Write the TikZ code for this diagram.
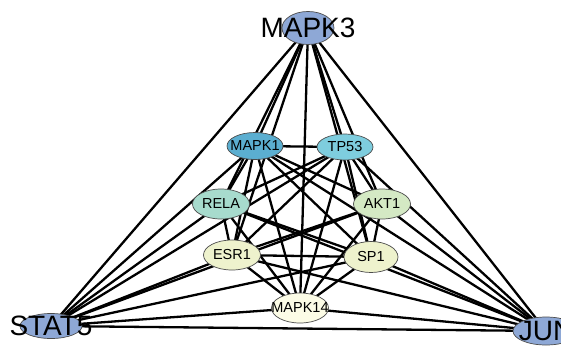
\documentclass[tikz,border=0pt]{standalone}
\usepackage{fontspec}
\setmainfont{Liberation Sans}
\usetikzlibrary{shapes.geometric,backgrounds}

\definecolor{hubblue}{HTML}{8EA8D6}
\definecolor{mapkblue}{HTML}{5BAED0}
\definecolor{tpcyan}{HTML}{7ECDDE}
\definecolor{relateal}{HTML}{A7DBCD}
\definecolor{aktgreen}{HTML}{D4E9C4}
\definecolor{paleyellow}{HTML}{EEF2CD}
\definecolor{creamwhite}{HTML}{FCFCE6}

\begin{document}
\begin{tikzpicture}[x = 1pt, y = -1pt,
        gene/.style = {draw = black!70, line width = 0.7pt, ellipse, inner sep = 0pt},
        hub/.style = {gene, fill = hubblue, label = {[font = \fontsize{28}{28}\selectfont]center:#1}},
        inner/.style = {gene, label = {[font = \fontsize{14.5}{15}\selectfont]center:#1}},
        link/.style = {line width = 2.3pt}]
        \useasboundingbox (0, 0) rectangle (561, 346);

        % Nodes
        \node [hub = MAPK3, minimum width = 52, minimum height = 33] (mapk3) at (308, 28) {};
        \node [hub = STAT5, minimum width = 62, minimum height = 25] (stat5) at (51, 326) {};
        \node [hub = JUN, minimum width = 66, minimum height = 28] (jun) at (546, 331) {};
        \node [inner = MAPK1, fill = mapkblue, minimum width = 56, minimum height = 27] (mapk1) at (255, 146) {};
        \node [inner = TP53, fill = tpcyan, minimum width = 56, minimum height = 26] (tp53) at (345, 147) {};
        \node [inner = RELA, fill = relateal, minimum width = 57, minimum height = 30] (rela) at (221, 204) {};
        \node [inner = AKT1, fill = aktgreen, minimum width = 57, minimum height = 30] (akt1) at (382, 204) {};
        \node [inner = ESR1, fill = paleyellow, minimum width = 57, minimum height = 30] (esr1) at (232, 255) {};
        \node [inner = SP1, fill = paleyellow, minimum width = 54, minimum height = 31] (sp1) at (371, 257) {};
        \node [inner = MAPK14, fill = creamwhite, minimum width = 57, minimum height = 30] (mapk14) at (300, 308) {};

        % Edges
        \begin{pgfonlayer}{background}
        \draw [link] (mapk3.center) -- (stat5.center);
        \draw [link] (mapk3.center) -- (jun.center);
        \draw [link] (mapk3.center) -- (mapk1.center);
        \draw [link] (mapk3.center) -- (tp53.center);
        \draw [link] (mapk3.center) -- (rela.center);
        \draw [link] (mapk3.center) -- (akt1.center);
        \draw [link] (mapk3.center) -- (esr1.center);
        \draw [link] (mapk3.center) -- (sp1.center);
        \draw [link] (mapk3.center) -- (mapk14.center);
        \draw [link] (stat5.center) -- (jun.center);
        \draw [link] (stat5.center) -- (mapk1.center);
        \draw [link] (stat5.center) -- (tp53.center);
        \draw [link] (stat5.center) -- (rela.center);
        \draw [link] (stat5.center) -- (akt1.center);
        \draw [link] (stat5.center) -- (esr1.center);
        \draw [link] (stat5.center) -- (sp1.center);
        \draw [link] (stat5.center) -- (mapk14.center);
        \draw [link] (jun.center) -- (mapk1.center);
        \draw [link] (jun.center) -- (tp53.center);
        \draw [link] (jun.center) -- (rela.center);
        \draw [link] (jun.center) -- (akt1.center);
        \draw [link] (jun.center) -- (esr1.center);
        \draw [link] (jun.center) -- (sp1.center);
        \draw [link] (jun.center) -- (mapk14.center);
        \draw [link] (mapk1.center) -- (tp53.center);
        \draw [link] (mapk1.center) -- (rela.center);
        \draw [link] (mapk1.center) -- (akt1.center);
        \draw [link] (mapk1.center) -- (esr1.center);
        \draw [link] (mapk1.center) -- (sp1.center);
        \draw [link] (mapk1.center) -- (mapk14.center);
        \draw [link] (tp53.center) -- (rela.center);
        \draw [link] (tp53.center) -- (akt1.center);
        \draw [link] (tp53.center) -- (esr1.center);
        \draw [link] (tp53.center) -- (sp1.center);
        \draw [link] (tp53.center) -- (mapk14.center);
        \draw [link] (rela.center) -- (esr1.center);
        \draw [link] (rela.center) -- (sp1.center);
        \draw [link] (rela.center) -- (mapk14.center);
        \draw [link] (akt1.center) -- (esr1.center);
        \draw [link] (akt1.center) -- (sp1.center);
        \draw [link] (akt1.center) -- (mapk14.center);
        \draw [link] (esr1.center) -- (sp1.center);
        \draw [link] (esr1.center) -- (mapk14.center);
        \draw [link] (sp1.center) -- (mapk14.center);
        \end{pgfonlayer}
    \end{tikzpicture}
\end{document}
